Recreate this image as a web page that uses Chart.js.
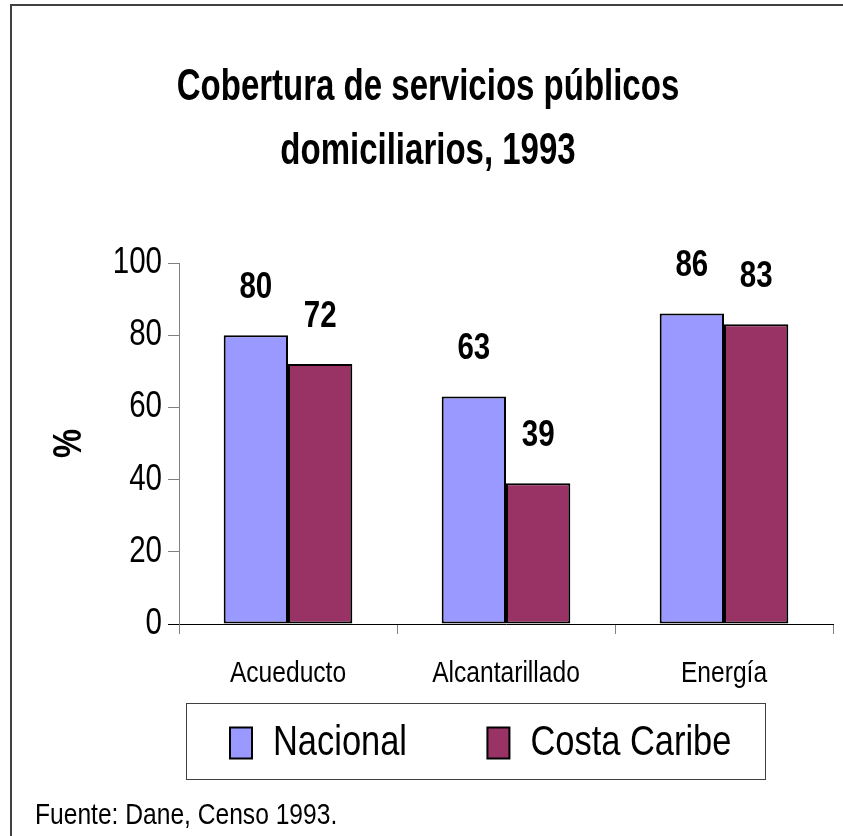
<!DOCTYPE html>
<html>
<head>
<meta charset="utf-8">
<script src="https://cdn.jsdelivr.net/npm/chart.js@4"></script>
<style>
  html, body { margin: 0; padding: 0; background: #fff; }
  #wrap { width: 843px; height: 836px; }
</style>
</head>
<body>
<div id="wrap"><canvas id="coberturaChart" width="843" height="836"></canvas></div>
<script>
// datos del gráfico
const categorias = ['Acueducto', 'Alcantarillado', 'Energía'];
const nacional = [80, 63, 86];
const costaCaribe = [72, 39, 83];
const nombresSeries = ['Nacional', 'Costa Caribe'];
const tituloLineas = ['Cobertura de servicios públicos', 'domiciliarios, 1993'];
const ejeY = { min: 0, max: 100, paso: 20, titulo: '%' };
const fuente = 'Fuente: Dane, Censo 1993.';

const FONT = "'Liberation Sans', Arial, sans-serif";

// el original usa una letra estrecha (tipo Arial Narrow): se comprime el texto al dibujarlo
const SQUEEZE = 0.82;
const SQUEEZE_TITULO = 0.75;
const fillTextOriginal = CanvasRenderingContext2D.prototype.fillText;
CanvasRenderingContext2D.prototype.fillText = function(text, x, y, maxWidth) {
    const factor = /bold\s+44px/.test(this.font) ? SQUEEZE_TITULO : SQUEEZE;
    const w = this.measureText(text).width * factor;
    const mw = (maxWidth !== undefined && maxWidth !== null) ? Math.min(maxWidth, w) : w;
    return fillTextOriginal.call(this, text, x, y, mw);
};

// marco exterior, recuadro de leyenda y nota de fuente
const marcoPlugin = {
    id: 'marco',
    afterLayout(chart) {
        // la leyenda arranca bajo el eje Y y un poco más arriba
        const lg = chart.legend;
        const dx = chart.chartArea.left - lg.left;
        const dy = -43;
        lg.left += dx; lg.right += dx;
        lg.top += dy; lg.bottom += dy;
    },
    beforeDraw(chart) {
        const ctx = chart.ctx;
        ctx.save();
        ctx.fillStyle = '#fff';
        ctx.fillRect(0, 0, chart.width, chart.height);
        ctx.strokeStyle = '#404040';
        ctx.lineWidth = 2;
        ctx.beginPath();
        ctx.moveTo(11, chart.height);
        ctx.lineTo(11, 5);
        ctx.lineTo(chart.width, 5);
        ctx.stroke();
        ctx.restore();
    },
    afterDraw(chart) {
        const ctx = chart.ctx;
        const legend = chart.legend;
        const hb = legend.legendHitBoxes;
        if (hb && hb.length) {
            const first = hb[0];
            const last = hb[hb.length - 1];
            const lab = legend.options.labels;
            ctx.save();
            ctx.font = lab.font.size + 'px ' + FONT;
            const lastText = legend.legendItems[legend.legendItems.length - 1].text;
            const textW = ctx.measureText(lastText).width * SQUEEZE;
            const left = first.left - 44;
            const right = last.left + lab.boxWidth + lab.font.size / 2 + textW + 34;
            const top = first.top - 19;
            const bottom = first.top + first.height + 15;
            ctx.strokeStyle = '#404040';
            ctx.lineWidth = 1;
            ctx.strokeRect(Math.round(left) + 0.5, Math.round(top) + 0.5, Math.round(right - left), Math.round(bottom - top));
            ctx.restore();
        }
        ctx.save();
        ctx.fillStyle = '#000';
        ctx.font = '30px ' + FONT;
        ctx.textBaseline = 'middle';
        ctx.textAlign = 'left';
        ctx.fillText(fuente, 35, 816);
        ctx.restore();
    }
};

// etiquetas de valor encima de cada barra
const etiquetasPlugin = {
    id: 'etiquetas',
    afterDatasetsDraw(chart) {
        const ctx = chart.ctx;
        ctx.save();
        ctx.font = 'bold 36px ' + FONT;
        ctx.fillStyle = '#000';
        ctx.textAlign = 'center';
        ctx.textBaseline = 'middle';
        chart.data.datasets.forEach(function(ds, i) {
            const meta = chart.getDatasetMeta(i);
            meta.data.forEach(function(bar, j) {
                ctx.fillText(String(ds.data[j]), bar.x, bar.y - 47);
            });
        });
        ctx.restore();
    }
};

const ctx = document.getElementById('coberturaChart').getContext('2d');
const coberturaChart = new Chart(ctx, {
    type: 'bar',
    data: {
        labels: categorias,
        datasets: [
            {
                label: nombresSeries[0],
                data: nacional,
                backgroundColor: '#9999FF',
                borderColor: '#000',
                borderWidth: 2,
                borderSkipped: false
            },
            {
                label: nombresSeries[1],
                data: costaCaribe,
                backgroundColor: '#993366',
                borderColor: '#000',
                borderWidth: 2,
                borderSkipped: false
            }
        ]
    },
    options: {
        responsive: false,
        animation: false,
        categoryPercentage: 0.59,
        barPercentage: 1.0,
        layout: { padding: { left: 23, right: 10, top: 0, bottom: 19 } },
        plugins: {
            tooltip: { enabled: false },
            title: {
                display: true,
                text: tituloLineas,
                color: '#000',
                font: { family: FONT, size: 44, weight: 'bold', lineHeight: 64 / 44 },
                padding: { top: 56, bottom: 79 }
            },
            legend: {
                position: 'bottom',
                align: 'start',
                labels: {
                    color: '#000',
                    font: { family: FONT, size: 42 },
                    boxWidth: 22,
                    boxHeight: 31,
                    padding: 51
                }
            }
        },
        scales: {
            x: {
                grid: {
                    offset: true,
                    drawOnChartArea: false,
                    drawTicks: true,
                    tickLength: 10,
                    color: '#808080'
                },
                border: { color: '#000', width: 1 },
                ticks: {
                    color: '#000',
                    font: { family: FONT, size: 30 },
                    padding: 22
                }
            },
            y: {
                min: ejeY.min,
                max: ejeY.max,
                ticks: {
                    stepSize: ejeY.paso,
                    color: '#000',
                    font: { family: FONT, size: 36 },
                    padding: 6
                },
                grid: {
                    drawOnChartArea: false,
                    drawTicks: true,
                    tickLength: 11,
                    color: function(c) { return c.tick && c.tick.value === 0 ? '#000' : '#808080'; }
                },
                border: { color: '#808080', width: 1 },
                title: {
                    display: true,
                    text: ejeY.titulo,
                    color: '#000',
                    font: { family: FONT, size: 40, weight: 'bold' },
                    padding: { top: 23, bottom: 0 }
                },
                afterFit(scale) { scale.width = 156; }
            }
        }
    },
    plugins: [marcoPlugin, etiquetasPlugin]
});
</script>
</body>
</html>
